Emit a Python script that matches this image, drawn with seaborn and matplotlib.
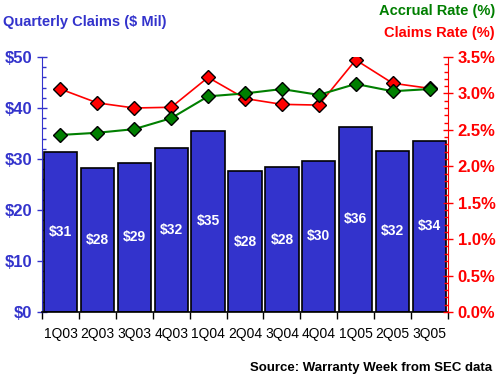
import matplotlib
matplotlib.use("Agg")
import matplotlib.pyplot as plt
from matplotlib.ticker import MultipleLocator, FuncFormatter
import numpy as np
import pandas as pd
import seaborn as sns

# chart data
quarters = ["1Q03", "2Q03", "3Q03", "4Q03", "1Q04", "2Q04",
            "3Q04", "4Q04", "1Q05", "2Q05", "3Q05"]
claims_mil = [31.3, 28.2, 29.3, 32.1, 35.5, 27.6, 28.4, 29.7, 36.3, 31.6, 33.6]
bar_labels = ["$31", "$28", "$29", "$32", "$35", "$28",
              "$28", "$30", "$36", "$32", "$34"]
claims_rate = [3.06, 2.87, 2.80, 2.81, 3.22, 2.93, 2.85, 2.84, 3.46, 3.14, 3.07]
accrual_rate = [2.43, 2.46, 2.51, 2.66, 2.96, 3.00, 3.06, 2.98, 3.13, 3.03, 3.06]

BLUE = "#3333CC"
RED = "#FF0000"
GREEN = "#007F00"

df = pd.DataFrame({"quarter": quarters, "claims": claims_mil,
                   "claims_rate": claims_rate, "accrual_rate": accrual_rate})

sns.set_style("white")
plt.rcParams["font.family"] = ["Liberation Sans", "DejaVu Sans"]

fig = plt.figure(figsize=(5, 3.8), dpi=100)
ax = fig.add_axes([0.084, 0.179, 0.812, 0.671])

sns.barplot(data=df, x="quarter", y="claims", color=BLUE, saturation=1,
            width=0.9, edgecolor="black", linewidth=1.2, ax=ax)

for i, (v, lab) in enumerate(zip(claims_mil, bar_labels)):
    ax.text(i, v / 2, lab, color="white", ha="center", va="center",
            fontsize=10, fontweight="bold")

ax.set_xlim(-0.5, len(quarters) - 0.5)
ax.set_ylim(0, 50)
ax.set_xlabel("")
ax.set_ylabel("")

# x ticks at category boundaries, labels at centers
ax.set_xticks(np.arange(-0.5, len(quarters), 1.0))
ax.set_xticklabels([])
ax.set_xticks(np.arange(len(quarters)), minor=True)
ax.set_xticklabels(quarters, minor=True)
ax.tick_params(axis="x", which="major", direction="out", length=5,
               width=1, color="black", bottom=True)
ax.tick_params(axis="x", which="minor", length=0, pad=11,
               labelsize=10, labelcolor="black")

ax.yaxis.set_major_locator(MultipleLocator(10))
ax.yaxis.set_minor_locator(MultipleLocator(2))
ax.yaxis.set_major_formatter(FuncFormatter(lambda v, p: f"${v:.0f}"))
ax.tick_params(axis="y", which="major", direction="inout", length=7,
               width=1, color=BLUE, labelcolor=BLUE, labelsize=12, left=True)
ax.tick_params(axis="y", which="minor", direction="in", length=3,
               width=1, color=BLUE, left=True)
for lab in ax.get_yticklabels():
    lab.set_fontweight("bold")

ax.spines["top"].set_visible(False)
ax.spines["right"].set_visible(False)
ax.spines["left"].set_color(BLUE)
ax.spines["bottom"].set_color("black")
ax.spines["bottom"].set_linewidth(1.2)

# rates on right axis
ax2 = ax.twinx()
x = np.arange(len(quarters))
ax2.plot(x, claims_rate, color=RED, linewidth=1.2, marker="D",
         markersize=7.5, markerfacecolor=RED, markeredgecolor="black",
         markeredgewidth=1, zorder=3)
ax2.plot(x, accrual_rate, color=GREEN, linewidth=1.5, marker="D",
         markersize=7.5, markerfacecolor=GREEN, markeredgecolor="black",
         markeredgewidth=1, zorder=4)
ax2.set_ylim(0, 3.5)
ax2.yaxis.set_major_locator(MultipleLocator(0.5))
ax2.yaxis.set_minor_locator(MultipleLocator(0.1))
ax2.yaxis.set_major_formatter(FuncFormatter(lambda v, p: f"{v:.1f}%"))
ax2.tick_params(axis="y", which="major", direction="inout", length=7,
                width=1, color=RED, labelcolor=RED, labelsize=12, right=True)
ax2.tick_params(axis="y", which="minor", direction="in", length=3,
                width=1, color=RED, right=True)
for lab in ax2.get_yticklabels():
    lab.set_fontweight("bold")
for s in ["top", "left", "bottom"]:
    ax2.spines[s].set_visible(False)
ax2.spines["right"].set_color(RED)
ax2.grid(False)
ax.grid(False)

fig.text(0.006, 0.942, "Quarterly Claims ($ Mil)", color=BLUE,
         fontsize=10.5, fontweight="bold", ha="left", va="center")
fig.text(0.99, 0.972, "Accrual Rate (%)", color=GREEN,
         fontsize=10.5, fontweight="bold", ha="right", va="center")
fig.text(0.99, 0.913, "Claims Rate (%)", color=RED,
         fontsize=10.5, fontweight="bold", ha="right", va="center")
fig.text(0.985, 0.032, "Source: Warranty Week from SEC data", color="black",
         fontsize=9.5, fontweight="bold", ha="right", va="center")

fig.savefig("out.png", dpi=100)
